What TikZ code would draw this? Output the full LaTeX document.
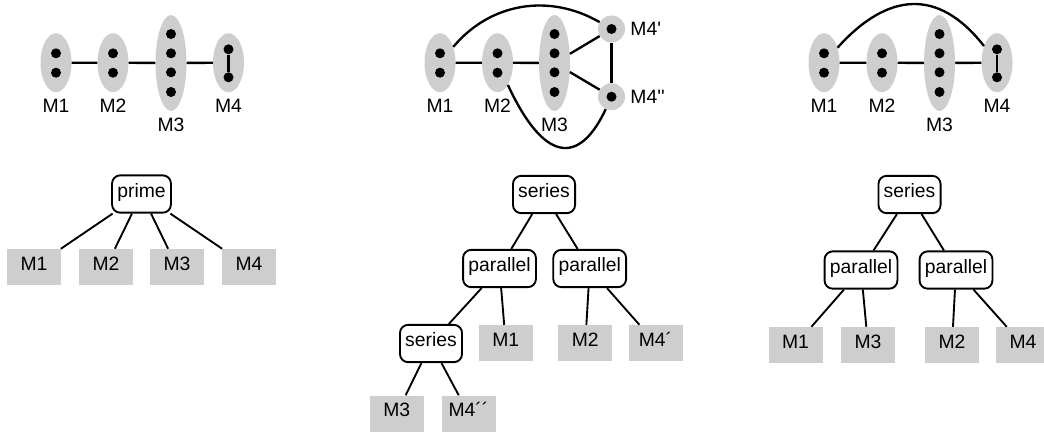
\documentclass[tikz,border=0pt]{standalone}
\usepackage{fontspec}
\setmainfont{Liberation Sans}[Ligatures=TeXOff]
\usetikzlibrary{positioning}
\usetikzlibrary{shapes.geometric}
\definecolor{modgray}{RGB}{206,206,206}
\tikzset{
  mod/.style={ellipse,fill=modgray,minimum width=0.93cm,minimum height=1.77cm,inner sep=0},
  tallmod/.style={mod,minimum height=2.88cm},
  splitmod/.style={circle,fill=modgray,minimum size=0.81cm,inner sep=0},
  dot/.style={circle,fill=black,minimum size=0.3cm,inner sep=0},
  lab/.style={inner sep=0},
  op/.style={draw,rounded corners=7pt,line width=1.6pt,inner xsep=4.5pt,minimum height=1.12cm,
    text height=0.75em,text depth=0.2em},
  leaf/.style={fill=modgray,minimum width=1.62cm,minimum height=1.08cm,
    text height=0.75em,text depth=0.2em},
  edge/.style={line width=2pt},
  tree/.style={line width=1.6pt}
}

\begin{document}
\begin{tikzpicture}[x=0.03cm,y=0.03cm,font=\fontsize{16.5}{19}\selectfont]
\useasboundingbox (0,0) rectangle (1044,-434);

% prime graph
\node[mod] (aM1) at (56,-62.7) {};
\node[mod] (aM2) at (113,-62.7) {};
\node[tallmod] (aM3) at (171,-63) {};
\node[mod] (aM4) at (228.5,-62.7) {};
\foreach \m/\x in {1/56,2/113} {
  \node[dot] (a\m-1) at (\x,-53.3) {};
  \node[dot] (a\m-2) at (\x,-72.7) {};
}
\foreach \y [count=\i] in {34,53.3,72.3,92}
  \node[dot] (a3-\i) at (171,-\y) {};
\node[dot] (a4-1) at (228.5,-49.3) {};
\node[dot] (a4-2) at (228.5,-77.3) {};
\draw[edge] (a4-1) -- (a4-2);
\draw[edge] (aM1) -- (aM2) -- (aM3) -- (aM4);
\node[lab,below=0.2cm of aM1] (aL1) {M1};
\node[lab,below=0.2cm of aM2] (aL2) {M2};
\node[lab,below=0.2cm of aM3] (aL3) {M3};
\node[lab,below=0.2cm of aM4] (aL4) {M4};

% split graph
\node[mod] (bM1) at (440,-62.7) {};
\node[mod] (bM2) at (497.5,-62.7) {};
\node[tallmod] (bM3) at (554.5,-63) {};
\node[splitmod] (bM4a) at (611.5,-29) {};
\node[splitmod] (bM4b) at (611.5,-96.7) {};
\foreach \m/\x in {1/440,2/497.5} {
  \node[dot] (b\m-1) at (\x,-53.3) {};
  \node[dot] (b\m-2) at (\x,-72.7) {};
}
\foreach \y [count=\i] in {34,53.3,72.3,92}
  \node[dot] (b3-\i) at (554.5,-\y) {};
\node[dot] (b4a) at (bM4a) {};
\node[dot] (b4b) at (bM4b) {};
\draw[edge] (bM1) -- (bM2) -- (bM3);
\draw[edge] (bM3) -- (bM4a);
\draw[edge] (bM3) -- (bM4b);
\draw[edge] (bM4a) -- (bM4b);
\draw[edge] (bM1) to[out=50,in=150] (bM4a);
\draw[edge] (bM2) to[out=-65,in=245,out looseness=2.4,in looseness=1.4] (bM4b);
\node[lab,below=0.2cm of bM1] (bL1) {M1};
\node[lab,below=0.2cm of bM2] (bL2) {M2};
\node[lab,below=0.2cm of bM3] (bL3) {M3};
\node[lab,right=0.15cm of bM4a] (bL4a) {M4'};
\node[lab,right=0.15cm of bM4b] (bL4b) {M4''};

% graph with extra edge
\node[mod] (cM1) at (824,-62.7) {};
\node[mod] (cM2) at (882,-62.7) {};
\node[tallmod] (cM3) at (939.5,-63) {};
\node[mod] (cM4) at (997,-62.7) {};
\foreach \m/\x in {1/824,2/882} {
  \node[dot] (c\m-1) at (\x,-53.3) {};
  \node[dot] (c\m-2) at (\x,-72.7) {};
}
\foreach \y [count=\i] in {34,53.3,72.3,92}
  \node[dot] (c3-\i) at (939.5,-\y) {};
\node[dot] (c4-1) at (997,-49.3) {};
\node[dot] (c4-2) at (997,-77.3) {};
\draw[edge] (c4-1) -- (c4-2);
\draw[edge] (cM1) -- (cM2) -- (cM3) -- (cM4);
\draw[edge] (cM1) to[out=48,in=128,looseness=1.3] (cM4);
\node[lab,below=0.2cm of cM1] (cL1) {M1};
\node[lab,below=0.2cm of cM2] (cL2) {M2};
\node[lab,below=0.2cm of cM3] (cL3) {M3};
\node[lab,below=0.2cm of cM4] (cL4) {M4};

% trees
\node[op] (pr) at (141.5,-194) {prime};
\node[leaf] (pM1) at (34,-267) {M1};
\node[leaf] (pM2) at (106,-267) {M2};
\node[leaf] (pM3) at (177,-267) {M3};
\node[leaf] (pM4) at (249,-267) {M4};
\foreach \l in {pM1,pM2,pM3,pM4}
  \draw[tree] (pr) -- (\l);

\node[op] (s1) at (544,-194.5) {series};
\node[op] (p1) at (499.5,-268.5) {parallel};
\node[op] (p2) at (589.7,-268.5) {parallel};
\node[op] (s2) at (431,-343.5) {series};
\node[leaf] (sM1) at (505.7,-343) {M1};
\node[leaf] (sM2) at (585.3,-343) {M2};
\node[leaf] (sM4a) at (655.5,-343) {M4´};
\node[leaf] (sM3) at (396.7,-413.5) {M3};
\node[leaf] (sM4b) at (468.5,-413.5) {M4´´};
\draw[tree] (s1) -- (p1);
\draw[tree] (s1) -- (p2);
\draw[tree] (p1) -- (s2);
\draw[tree] (p1) -- (sM1);
\draw[tree] (p2) -- (sM2);
\draw[tree] (p2) -- (sM4a);
\draw[tree] (s2) -- (sM3);
\draw[tree] (s2) -- (sM4b);

\node[op] (t1) at (909.5,-194.5) {series};
\node[op] (q1) at (861,-270) {parallel};
\node[op] (q2) at (956,-270) {parallel};
\node[leaf] (tM1) at (795.5,-345) {M1};
\node[leaf] (tM3) at (868,-345) {M3};
\node[leaf] (tM2) at (952,-345) {M2};
\node[leaf] (tM4) at (1023,-345) {M4};
\draw[tree] (t1) -- (q1);
\draw[tree] (t1) -- (q2);
\draw[tree] (q1) -- (tM1);
\draw[tree] (q1) -- (tM3);
\draw[tree] (q2) -- (tM2);
\draw[tree] (q2) -- (tM4);
\end{tikzpicture}
\end{document}
